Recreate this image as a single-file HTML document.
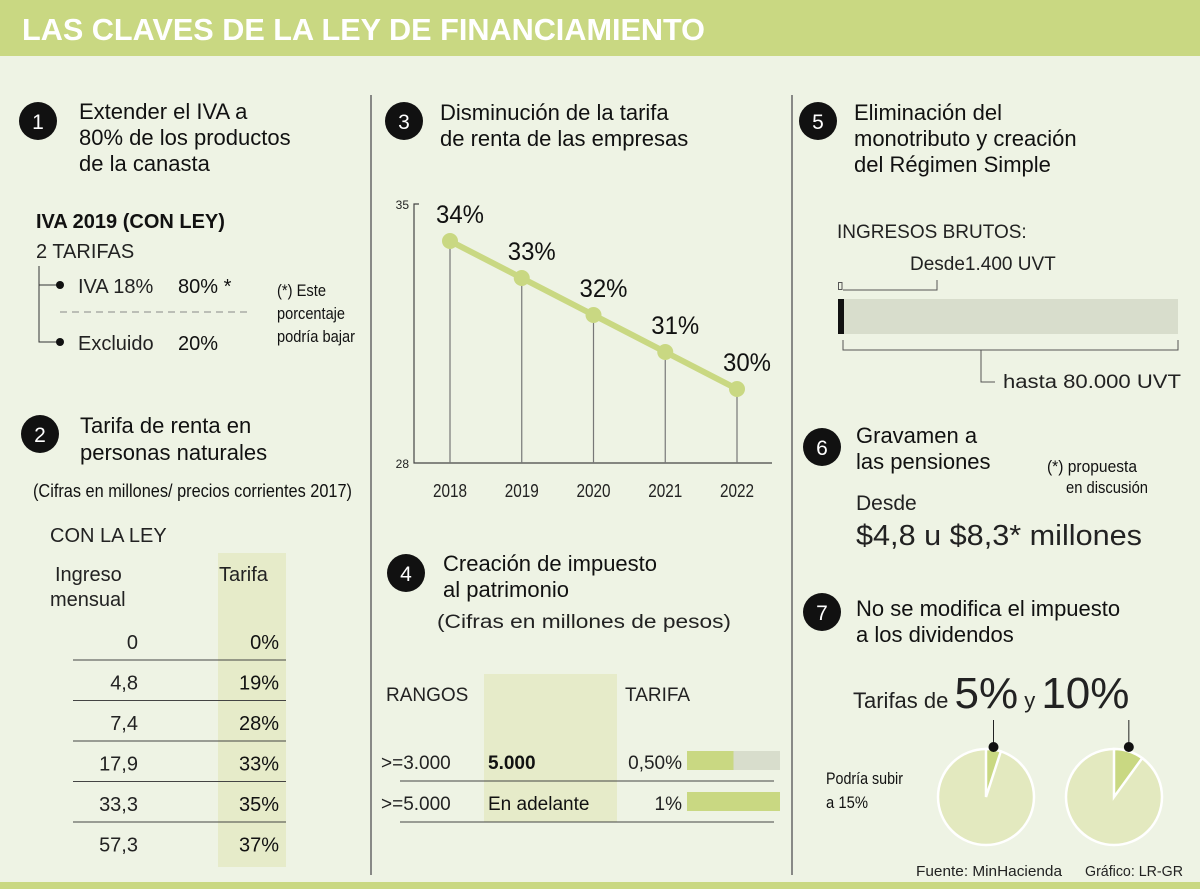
<!DOCTYPE html>
<html><head><meta charset="utf-8"><style>
html,body{margin:0;padding:0;background:#eef3e4;}
svg{display:block;font-family:"Liberation Sans",sans-serif;}
</style></head><body>
<svg id="svg" width="1200" height="889" viewBox="0 0 1200 889" xmlns="http://www.w3.org/2000/svg">
<rect x="0" y="0" width="1200" height="889" fill="#eef3e4"/>
<rect x="0" y="0" width="1200" height="56" fill="#c9d882"/>
<text x="22" y="40" font-size="31" font-weight="bold" fill="#fff" textLength="683" lengthAdjust="spacingAndGlyphs">LAS CLAVES DE LA LEY DE FINANCIAMIENTO</text>
<rect x="0" y="882" width="1200" height="7" fill="#c9d882"/>
<line x1="371" y1="95" x2="371" y2="875" stroke="#666" stroke-width="1.5"/>
<line x1="792" y1="95" x2="792" y2="875" stroke="#666" stroke-width="1.5"/>

<g><circle cx="38" cy="121" r="19" fill="#111"/><text x="38" y="129" font-size="21" fill="#fff" text-anchor="middle">1</text></g>
<g><circle cx="40" cy="434" r="19" fill="#111"/><text x="40" y="442" font-size="21" fill="#fff" text-anchor="middle">2</text></g>
<g><circle cx="404" cy="121" r="19" fill="#111"/><text x="404" y="129" font-size="21" fill="#fff" text-anchor="middle">3</text></g>
<g><circle cx="406" cy="573" r="19" fill="#111"/><text x="406" y="581" font-size="21" fill="#fff" text-anchor="middle">4</text></g>
<g><circle cx="818" cy="121" r="19" fill="#111"/><text x="818" y="129" font-size="21" fill="#fff" text-anchor="middle">5</text></g>
<g><circle cx="822" cy="447" r="19" fill="#111"/><text x="822" y="455" font-size="21" fill="#fff" text-anchor="middle">6</text></g>
<g><circle cx="822" cy="612" r="19" fill="#111"/><text x="822" y="620" font-size="21" fill="#fff" text-anchor="middle">7</text></g>

<g font-size="22" fill="#111">
<text x="79" y="119">Extender el IVA a</text><text x="79" y="145">80% de los productos</text><text x="79" y="171">de la canasta</text></g>
<text x="36" y="228" font-size="20" font-weight="bold" fill="#111">IVA 2019 (CON LEY)</text>
<text x="36" y="258" font-size="20" fill="#222">2 TARIFAS</text>
<path d="M39 266 V342 H59 M39 285 H59" stroke="#333" fill="none" stroke-width="1"/>
<circle cx="60" cy="285" r="4" fill="#111"/>
<circle cx="60" cy="342" r="4" fill="#111"/>
<text x="78" y="293" font-size="20" fill="#222">IVA 18%</text>
<text x="178" y="293" font-size="20" fill="#111">80% *</text>
<line x1="60" y1="312" x2="252" y2="312" stroke="#888" stroke-dasharray="7,5"/>
<text x="78" y="350" font-size="20" fill="#222">Excluido</text>
<text x="178" y="350" font-size="20" fill="#111">20%</text>
<g font-size="17" fill="#111" lengthAdjust="spacingAndGlyphs"><text x="277" y="296" textLength="49" lengthAdjust="spacingAndGlyphs">(*) Este</text><text x="277" y="319" textLength="68" lengthAdjust="spacingAndGlyphs">porcentaje</text><text x="277" y="342" textLength="78" lengthAdjust="spacingAndGlyphs">podría bajar</text></g>

<g font-size="22" fill="#111"><text x="80" y="433">Tarifa de renta en</text><text x="80" y="460">personas naturales</text></g>
<text x="33" y="497" font-size="18" fill="#111" textLength="319" lengthAdjust="spacingAndGlyphs">(Cifras en millones/ precios corrientes 2017)</text>
<text x="50" y="542" font-size="20" fill="#222">CON LA LEY</text>
<rect x="218" y="553" width="68" height="314" fill="#e6ebc9"/>
<text x="55" y="581" font-size="20" fill="#222">Ingreso</text>
<text x="50" y="606" font-size="20" fill="#222">mensual</text>
<text x="219" y="581" font-size="20" fill="#222">Tarifa</text>
<g id="renta-table"></g>

<g font-size="22" fill="#111"><text x="440" y="120">Disminución de la tarifa</text><text x="440" y="146">de renta de las empresas</text></g>
<g id="chart"></g>

<g font-size="22" fill="#111"><text x="443" y="571">Creación de impuesto</text><text x="443" y="597">al patrimonio</text></g>
<text x="437" y="628" font-size="19" fill="#222" textLength="294" lengthAdjust="spacingAndGlyphs">(Cifras en millones de pesos)</text>
<rect x="484" y="674" width="133" height="148" fill="#e6ebc9"/>
<text x="386" y="701" font-size="19" fill="#222">RANGOS</text>
<text x="625" y="701" font-size="19" fill="#222">TARIFA</text>
<g id="patrimonio"></g>

<g font-size="22" fill="#111"><text x="854" y="120">Eliminación del</text><text x="854" y="146">monotributo y creación</text><text x="854" y="172">del Régimen Simple</text></g>
<text x="837" y="238" font-size="19" fill="#222">INGRESOS BRUTOS:</text>
<text x="910" y="270" font-size="19" fill="#222">Desde1.400 UVT</text>
<rect x="838.5" y="282.5" width="3.5" height="7" fill="none" stroke="#555"/>
<path d="M843 290 H937 V280" fill="none" stroke="#555"/>
<rect x="838" y="299" width="340" height="35" fill="#d8ddcc"/>
<rect x="838" y="299" width="6" height="35" fill="#111"/>
<path d="M843 340 V350 H1178 V340 M981 350 V382 H995" fill="none" stroke="#555"/>
<text x="1003" y="388" font-size="19" fill="#222" textLength="178" lengthAdjust="spacingAndGlyphs">hasta 80.000 UVT</text>

<g font-size="22" fill="#111"><text x="856" y="443">Gravamen a</text><text x="856" y="469">las pensiones</text></g>
<g font-size="17" fill="#111"><text x="1047" y="472" textLength="90" lengthAdjust="spacingAndGlyphs">(*) propuesta</text><text x="1066" y="493" textLength="82" lengthAdjust="spacingAndGlyphs">en discusión</text></g>
<text x="856" y="510" font-size="21" fill="#222">Desde</text>
<text x="856" y="545" font-size="29" fill="#222" textLength="286" lengthAdjust="spacingAndGlyphs">$4,8 u $8,3* millones</text>

<g font-size="22" fill="#111"><text x="856" y="616">No se modifica el impuesto</text><text x="856" y="642">a los dividendos</text></g>
<text x="853" y="708" fill="#222"><tspan font-size="22">Tarifas de </tspan><tspan font-size="44">5%</tspan><tspan font-size="22"> y </tspan><tspan font-size="44">10%</tspan></text>
<g font-size="17" fill="#111"><text x="826" y="784" textLength="77" lengthAdjust="spacingAndGlyphs">Podría subir</text><text x="826" y="808" textLength="42" lengthAdjust="spacingAndGlyphs">a 15%</text></g>
<g id="pies"></g>
<text x="916" y="876" font-size="15" fill="#222" textLength="146" lengthAdjust="spacingAndGlyphs">Fuente: MinHacienda</text>
<text x="1085" y="876" font-size="15" fill="#222" textLength="98" lengthAdjust="spacingAndGlyphs">Gráfico: LR-GR</text>
</svg>
<script>
const NS="http://www.w3.org/2000/svg";
// chart data
const years=["2018","2019","2020","2021","2022"];
const rates=[34,33,32,31,30];
const yTicks=[28,35];
// renta table data
const ingresos=["0","4,8","7,4","17,9","33,3","57,3"];
const tarifasRenta=["0%","19%","28%","33%","35%","37%"];
// patrimonio data
const rangos=[">=3.000",">=5.000"];
const hasta=["5.000","En adelante"];
const tarifaPatLabels=["0,50%","1%"];
const tarifaPat=[0.5,1];
// dividend pies
const dividendRates=[5,10];

function mk(tag,attrs,parent,txt){const e=document.createElementNS(NS,tag);for(const k in attrs)e.setAttribute(k,attrs[k]);if(txt!==undefined)e.textContent=txt;parent.appendChild(e);return e;}

const chart=document.getElementById('chart');
const x0=450,dx=71.75,yMin=28,yMax=35,yTop=204,yBot=463;
const X=i=>x0+i*dx;
const Y=v=>yBot-(v-yMin)/(yMax-yMin)*(yBot-yTop);
let ax=mk('path',{d:`M419 ${Y(35)} H414 V${Y(28)} H772`,stroke:'#444',fill:'none','stroke-width':1.2},chart);


yTicks.forEach(t=>{const e=mk('text',{x:409,y:Y(t)+5,'font-size':12,'text-anchor':'end',fill:'#222'},chart,String(t));

});
rates.forEach((r,i)=>{const e=mk('line',{x1:X(i),y1:Y(r),x2:X(i),y2:Y(28),stroke:'#777','stroke-width':1.2},chart);

});
const line=mk('polyline',{points:rates.map((r,i)=>X(i)+','+Y(r)).join(' '),fill:'none',stroke:'#c9d882','stroke-width':6},chart);


rates.forEach((r,i)=>{const c=mk('circle',{cx:X(i),cy:Y(r),r:8,fill:'#c9d882'},chart);


const t=mk('text',{x:X(i)-14,y:Y(r)-18,'font-size':25,fill:'#111',textLength:48,lengthAdjust:'spacingAndGlyphs'},chart,r+'%');


const yl=mk('text',{x:X(i)-17,y:497,'font-size':18,fill:'#222',textLength:34,lengthAdjust:'spacingAndGlyphs'},chart,years[i]);

});

const rt=document.getElementById('renta-table');
ingresos.forEach((v,i)=>{const y=649+i*40.5;
const a=mk('text',{x:138,y:y,'font-size':20,'text-anchor':'end',fill:'#222'},rt,v);


const b=mk('text',{x:279,y:y,'font-size':20,'text-anchor':'end',fill:'#111'},rt,tarifasRenta[i]);


if(i<ingresos.length-1){const l=mk('line',{x1:73,x2:286,y1:y+11,y2:y+11,stroke:'#444'},rt);

}});

const pt=document.getElementById('patrimonio');
const barX=687,barW=93;
rangos.forEach((r,i)=>{const y=769+i*41;
const a=mk('text',{x:381,y:y,'font-size':19,fill:'#222'},pt,r);


const b=mk('text',{x:488,y:y,'font-size':19,fill:'#111','font-weight':i==0?'bold':'normal'},pt,hasta[i]);


const c=mk('text',{x:682,y:y,'font-size':19,'text-anchor':'end',fill:'#222'},pt,tarifaPatLabels[i]);


const bg=mk('rect',{x:barX,y:y-18,width:barW,height:19,fill:'#d8ddcc'},pt);


const fg=mk('rect',{x:barX,y:y-18,width:barW*tarifaPat[i]/1,height:19,fill:'#c9d882'},pt);


const l=mk('line',{x1:400,x2:774,y1:y+12,y2:y+12,stroke:'#444'},pt);

});

const pies=document.getElementById('pies');
const pcx=[986,1114],pcy=797,pr=48;
dividendRates.forEach((p,i)=>{const cx=pcx[i];
const c=mk('circle',{cx:cx,cy:pcy,r:pr,fill:'#e3e9bf',stroke:'#fff','stroke-width':2.5},pies);


const a=p/100*2*Math.PI;const ex=cx+pr*Math.sin(a),ey=pcy-pr*Math.cos(a);
const s=mk('path',{d:`M${cx} ${pcy} L${cx} ${pcy-pr} A${pr} ${pr} 0 0 1 ${ex} ${ey} Z`,fill:'#c9d882',stroke:'#fff','stroke-width':2.5},pies);


const mx=cx+pr*Math.sin(a/2);
const l=mk('line',{x1:mx,y1:720,x2:mx,y2:748,stroke:'#222'},pies);


const d=mk('circle',{cx:mx,cy:747,r:5,fill:'#111'},pies);

});
</script>
</body></html>
